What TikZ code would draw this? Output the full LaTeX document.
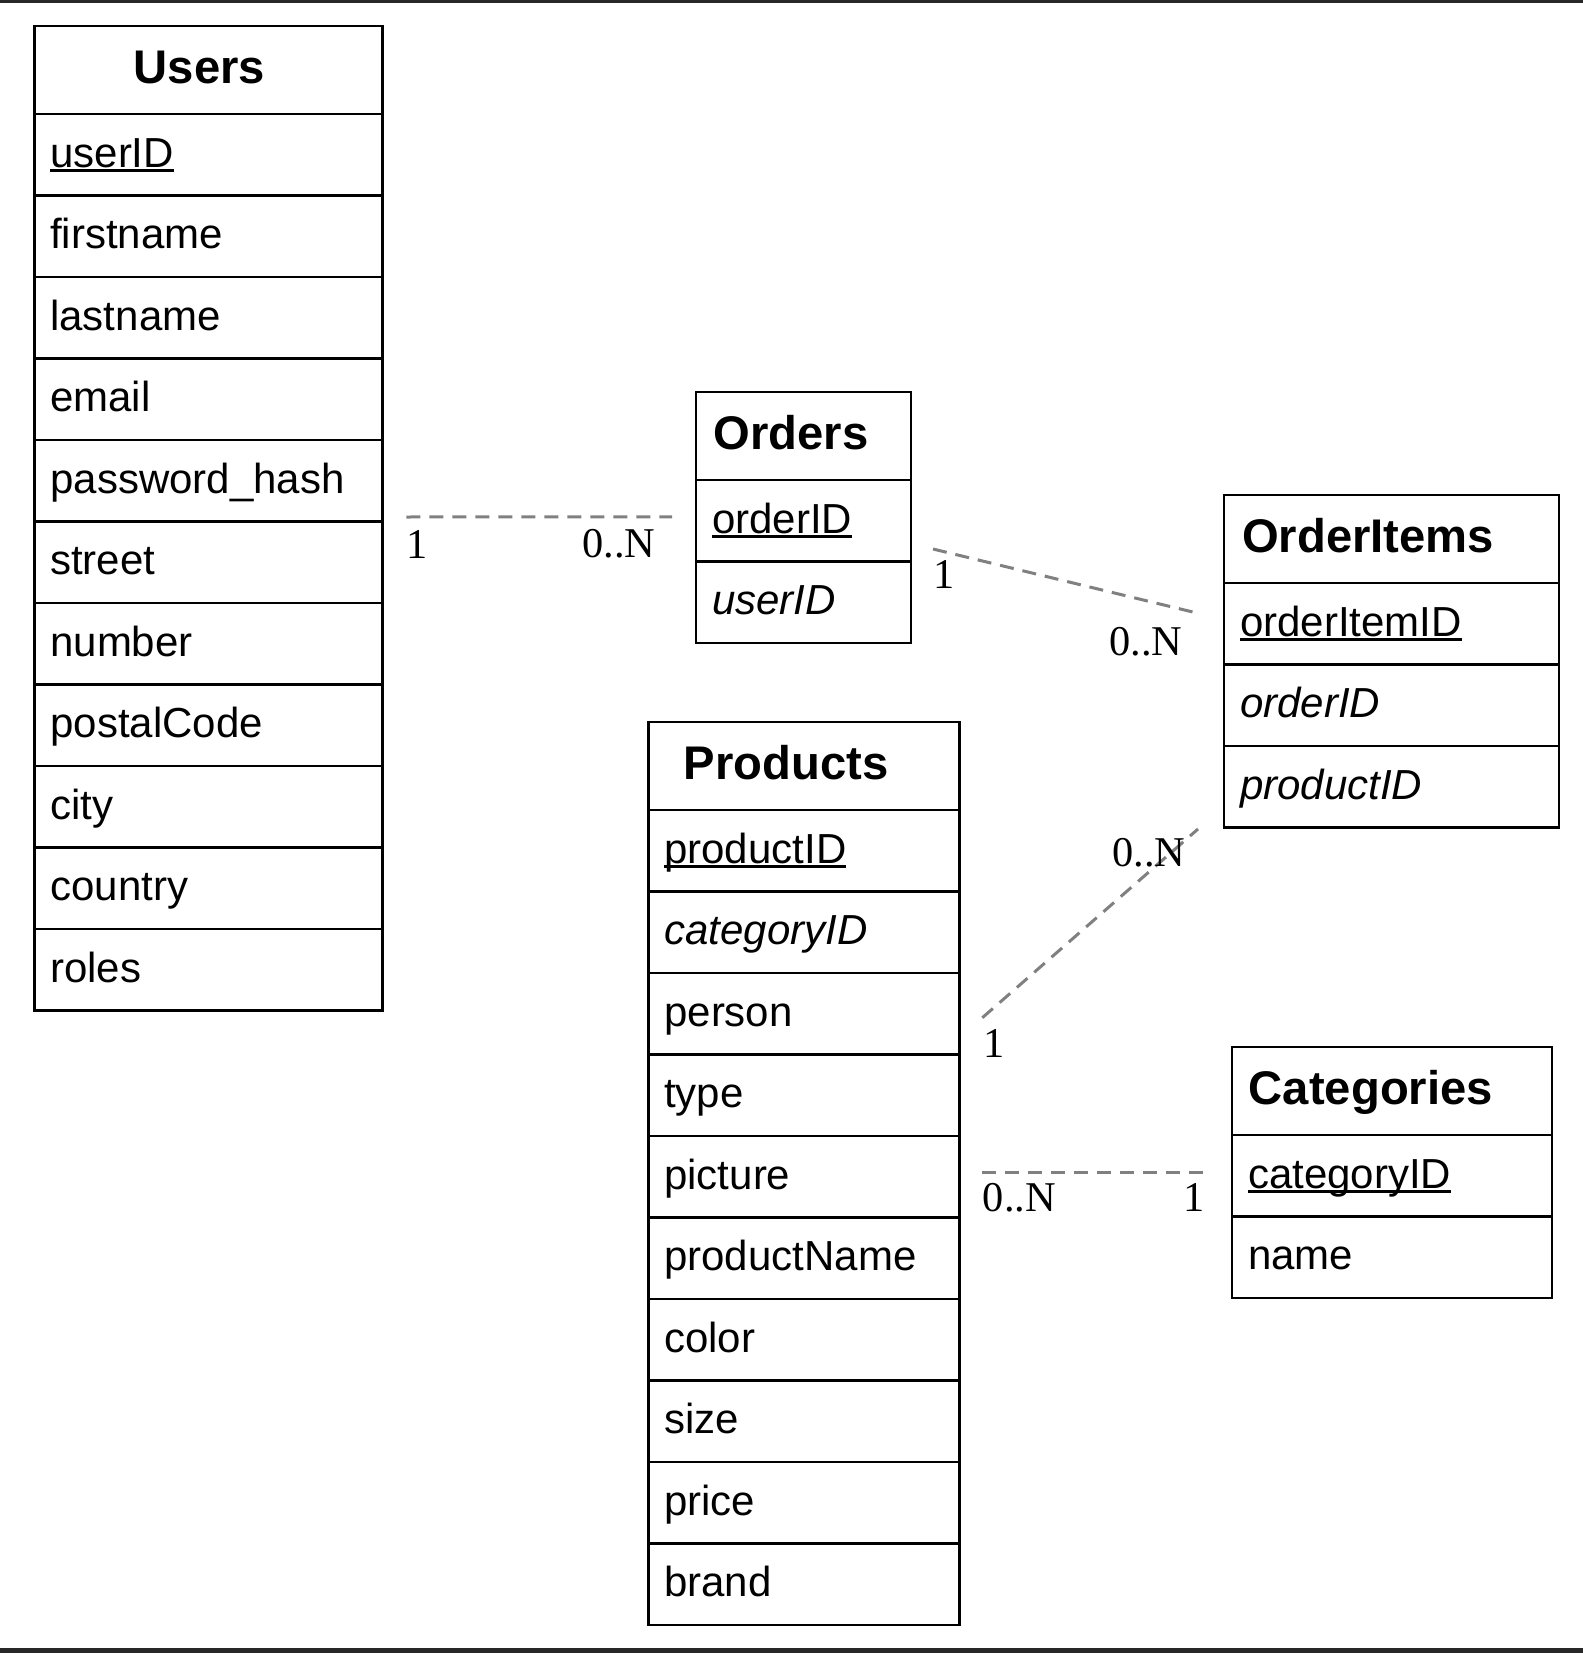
\documentclass[tikz,border=0pt]{standalone}
\usepackage{fontspec}
\setmainfont{Liberation Sans}
\newfontfamily\cardfont{Liberation Serif}
\usepackage{tikz}
\usetikzlibrary{positioning,calc}
\usepackage{xcolor}
\definecolor{LineGray}{RGB}{128,128,128}
\definecolor{BarGray}{RGB}{40,40,40}
\tikzset{
	box/.style={draw, line width=1.3pt, outer sep=0pt, inner ysep=0pt, align=left},
	head/.style 2 args={box, minimum height=44pt, inner xsep=#1, text width=#2, text height=16.5pt, text depth=2.6pt, font=\fontsize{23.6pt}{28pt}\selectfont\bfseries},
	field/.style={box, minimum height=40.75pt, inner xsep=8pt, text width=#1, text height=14.5pt, text depth=2.1pt, font=\fontsize{21pt}{25pt}\selectfont},
	rel/.style={draw=LineGray, line width=1.5pt, dash pattern=on 7pt off 4.5pt},
	card/.style={inner sep=0pt, font=\fontsize{21.2pt}{25pt}\selectfont\cardfont}
}
\newcommand{\pk}[1]{\setbox0\hbox{#1}\rlap{\rule[-2.5pt]{\wd0}{1.5pt}}\box0}
\newcommand{\fk}[1]{\textit{#1}}

\begin{document}
\begin{tikzpicture}[x=0.5pt, y=-0.5pt]
	\useasboundingbox (0,0) rectangle (1583,1653);
	\fill[white] (0,0) rectangle (1583,1653);
	\fill[BarGray] (0,0) rectangle (1583,3);
	\fill[BarGray] (0,1648) rectangle (1583,1653);
%
	%Users
	\node[head={49.75pt}{74.5pt}, anchor=north west] (u0) at (34.3,26) {Users};
	\node[field=158pt, below=0pt of u0] (u1) {\pk{userID}};
	\node[field=158pt, below=0pt of u1] (u2) {firstname};
	\node[field=158pt, below=0pt of u2] (u3) {lastname};
	\node[field=158pt, below=0pt of u3] (u4) {email};
	\node[field=158pt, below=0pt of u4] (u5) {password\_hash};
	\node[field=158pt, below=0pt of u5] (u6) {street};
	\node[field=158pt, below=0pt of u6] (u7) {number};
	\node[field=158pt, below=0pt of u7] (u8) {postalCode};
	\node[field=158pt, below=0pt of u8] (u9) {city};
	\node[field=158pt, below=0pt of u9] (u10) {country};
	\node[field=158pt, below=0pt of u10] (u11) {roles};
%
	%Orders
	\node[head={8.75pt}{90pt}, anchor=north west] (o0) at (696,392) {Orders};
	\node[field=91.5pt, below=0pt of o0] (o1) {\pk{orderID}};
	\node[field=91.5pt, below=0pt of o1] (o2) {\fk{userID}};
%
	%OrderItems
	\node[head={9.05pt}{149.4pt}, anchor=north west] (i0) at (1224,495) {OrderItems};
	\node[field=151.5pt, below=0pt of i0] (i1) {\pk{orderItemID}};
	\node[field=151.5pt, below=0pt of i1] (i2) {\fk{orderID}};
	\node[field=151.5pt, below=0pt of i2] (i3) {\fk{productID}};
%
	%Products
	\node[head={17.75pt}{120pt}, anchor=north west] (p0) at (648.3,722) {Products};
	\node[field=139.5pt, below=0pt of p0] (p1) {\pk{productID}};
	\node[field=139.5pt, below=0pt of p1] (p2) {\fk{categoryID}};
	\node[field=139.5pt, below=0pt of p2] (p3) {person};
	\node[field=139.5pt, below=0pt of p3] (p4) {type};
	\node[field=139.5pt, below=0pt of p4] (p5) {picture};
	\node[field=139.5pt, below=0pt of p5] (p6) {productName};
	\node[field=139.5pt, below=0pt of p6] (p7) {color};
	\node[field=139.5pt, below=0pt of p7] (p8) {size};
	\node[field=139.5pt, below=0pt of p8] (p9) {price};
	\node[field=139.5pt, below=0pt of p9] (p10) {brand};
%
	%Categories
	\node[head={8.45pt}{143.1pt}, anchor=north west] (c0) at (1232,1047) {Categories};
	\node[field=144pt, below=0pt of c0] (c1) {\pk{categoryID}};
	\node[field=144pt, below=0pt of c1] (c2) {name};
%
	%relations
	\draw[rel] ($(u5.south east)+(24,-4.5)$) -- ($(o1.west)+(-24,-4)$)
		node[card, pos=0, anchor=base west, xshift=-0.75pt, yshift=-20.5pt] {1}
		node[card, pos=1, anchor=base east, xshift=-7.5pt, yshift=-20.5pt] {0..N};
	\draw[rel] ($(o1.south east)+(22,-12.5)$) -- ($(i1.west)+(-24,-10)$)
		node[card, pos=0, anchor=base west, xshift=-0.75pt, yshift=-19.5pt] {1}
		node[card, pos=1, anchor=base east, xshift=-8pt, yshift=-21pt] {0..N};
	\draw[rel] ($(p3.east)+(23,4)$) -- ($(i3.south west)+(-26,1.5)$)
		node[card, pos=0, anchor=base west, xshift=-0.25pt, yshift=-20pt] {1}
		node[card, pos=1, anchor=base east, xshift=-5.5pt, yshift=-18.5pt] {0..N};
	\draw[rel] ($(p5.east)+(23,-4)$) -- ($(c1.west)+(-25,-3)$)
		node[card, pos=0, anchor=base west, xshift=-0.5pt, yshift=-19.5pt] {0..N}
		node[card, pos=1, anchor=base east, xshift=-0.35pt, yshift=-19.5pt] {1};
\end{tikzpicture}
\end{document}
